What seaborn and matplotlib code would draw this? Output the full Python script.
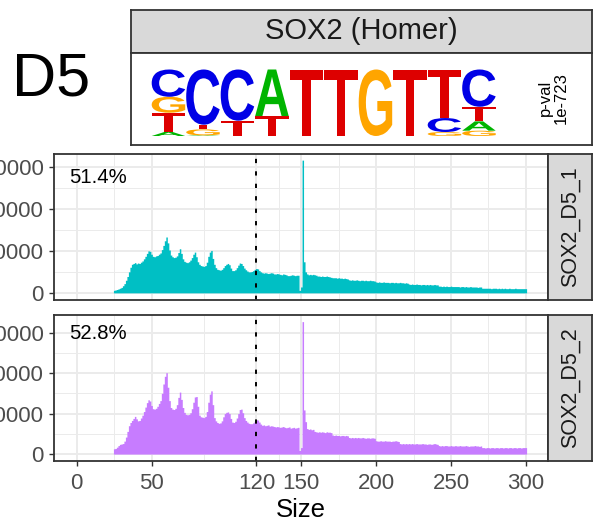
import matplotlib
matplotlib.use("Agg")
import matplotlib.pyplot as plt
import pandas as pd
import seaborn as sns
from matplotlib.textpath import TextPath
from matplotlib.font_manager import FontProperties
from matplotlib.patches import PathPatch
from matplotlib.transforms import Affine2D

# ---------------- data ----------------
sizes = list(range(25, 301))

counts_rep1 = [
    600, 700, 800, 950, 1100, 1300, 1700, 2200, 3000, 3900,
    5000, 6100, 6800, 7000, 7200, 6900, 7100, 7000, 7300, 7600,
    8100, 8700, 9400, 10000, 9900, 9200, 8700, 8600, 8800, 8900,
    9200, 9500, 10300, 11300, 12400, 13300, 11900, 10200, 9000, 8600,
    8400, 8500, 8800, 9600, 10500, 9400, 8100, 7500, 7300, 7200,
    7400, 7800, 8400, 9200, 9700, 8600, 7400, 6800, 6500, 6400,
    6300, 6500, 7300, 8700, 9700, 10100, 8200, 6800, 6000, 5600,
    5500, 5400, 5600, 6000, 6500, 6800, 7000, 6700, 5900, 5300,
    5300, 5500, 6000, 6600, 7100, 7000, 6500, 5900, 5500, 5200,
    5000, 5000, 5100, 5300, 5600, 5800, 5700, 5300, 5000, 4800,
    4700, 4800, 4700, 4600, 4700, 4800, 4700, 4500, 4500, 4600,
    4500, 4400, 4300, 4500, 4400, 4300, 4100, 4100, 4200, 4300,
    4200, 4100, 4200, 4200, 600, 1400, 31600, 7400, 5000, 4500,
    4300, 4400, 4300, 4400, 4300, 4200, 4000, 4000, 3900, 4000,
    3900, 3900, 4000, 3900, 3800, 3700, 3600, 3600, 3600, 3500,
    3600, 3500, 3500, 3400, 3500, 3400, 3300, 3100, 3000, 3100,
    3000, 3000, 3100, 3000, 2900, 3000, 3000, 2900, 3000, 2900,
    2900, 3000, 2900, 2900, 2800, 2600, 2500, 2600, 2500, 2500,
    2600, 2500, 2500, 2500, 2400, 2500, 2500, 2400, 2500, 2400,
    2400, 2500, 2400, 2400, 2300, 2400, 2300, 2100, 2000, 2100,
    2000, 2000, 2100, 2000, 2000, 1900, 2000, 2000, 1900, 2000,
    1900, 2000, 1900, 1900, 2000, 1900, 1900, 1600, 1600, 1500,
    1600, 1500, 1600, 1500, 1500, 1600, 1500, 1500, 1500, 1500,
    1500, 1400, 1500, 1500, 1400, 1500, 1400, 1400, 1500, 1400,
    1400, 1400, 1400, 1300, 1400, 1400, 1100, 1100, 1100, 1100,
    1100, 1100, 1000, 1100, 1100, 1100, 1000, 1100, 1000, 1100,
    1000, 1100, 1000, 1000, 1100, 1000, 1000, 1000, 1100, 1000,
    1000, 1000, 1000, 1000, 1000, 1000,
]

counts_rep2 = [
    1300, 1400, 1700, 2100, 2400, 2500, 2600, 3200, 4200, 5600,
    7000, 7800, 8300, 8800, 9300, 8700, 8200, 8300, 8900, 9600,
    10500, 11600, 12700, 13400, 13100, 12000, 11200, 11100, 11300, 11800,
    12500, 13200, 15000, 17300, 19200, 20100, 16500, 13200, 11500, 11100,
    11000, 11300, 12200, 14000, 15300, 13500, 11500, 10300, 9800, 9700,
    9800, 10200, 11200, 12800, 14100, 14200, 11800, 9600, 9200, 9100,
    9000, 9300, 10500, 12800, 14800, 15600, 12200, 9000, 8200, 7800,
    7600, 7700, 8200, 9200, 10000, 10300, 10400, 10000, 8800, 7900,
    7800, 8100, 8900, 10000, 11000, 11100, 10200, 9000, 8300, 7900,
    7600, 7500, 7500, 7700, 8100, 8500, 8400, 7900, 7400, 7100,
    7200, 7000, 7100, 7200, 6900, 7000, 6900, 6800, 6700, 6800,
    6700, 6600, 6700, 6800, 6600, 6500, 6600, 6700, 6400, 6500,
    6600, 6400, 6500, 6600, 900, 1600, 32700, 10900, 8000, 6300,
    6100, 6200, 6000, 6100, 5600, 5500, 5400, 5500, 5400, 5500,
    5400, 5300, 5500, 5400, 5400, 5300, 4700, 4600, 4700, 4600,
    4600, 4500, 4600, 4600, 4500, 4600, 4500, 4100, 4000, 4100,
    4000, 4100, 4000, 4100, 4000, 4000, 4100, 4000, 3900, 4000,
    4000, 3900, 4000, 4000, 3900, 3300, 3200, 3200, 3300, 3200,
    3200, 3300, 3200, 3200, 3200, 3100, 3200, 3200, 3300, 3200,
    3100, 2600, 2500, 2600, 2500, 2600, 2500, 2600, 2500, 2600,
    2500, 2500, 2600, 2500, 2500, 2500, 2600, 2500, 2500, 2400,
    2500, 2500, 2400, 2500, 2600, 2500, 2400, 2100, 2000, 2100,
    2000, 2100, 2100, 2000, 2000, 2100, 2000, 2000, 2100, 2000,
    2000, 2100, 2000, 2000, 2000, 2100, 2000, 1900, 2000, 2000,
    2000, 2100, 2000, 2000, 1900, 2000, 1600, 1600, 1500, 1600,
    1600, 1500, 1600, 1600, 1500, 1600, 1600, 1500, 1600, 1600,
    1500, 1600, 1600, 1500, 1600, 1600, 1500, 1600, 1600, 1500,
    1600, 1600, 1500, 1600, 1600, 1600,
]

samples = ["SOX2_D5_1", "SOX2_D5_2"]
sample_colors = ["#00BFC4", "#C77CFF"]
pct_labels = ["51.4%", "52.8%"]
size_cutoff = 120
x_ticks = [0, 50, 120, 150, 200, 250, 300]
x_minor = [25, 85, 135, 175, 225, 275]
y_ticks = [0, 10000, 20000, 30000]
y_minor = [5000, 15000, 25000]

stage_label = "D5"
motif_name = "SOX2 (Homer)"
motif_pval = "p-val\n1e-723"
# base probabilities at each motif position, stacked bottom to top
motif = [
    [("A", 0.06), ("T", 0.29), ("G", 0.24), ("C", 0.41)],
    [("A", 0.01), ("G", 0.09), ("T", 0.07), ("C", 0.83)],
    [("T", 0.23), ("C", 0.77)],
    [("T", 0.30), ("A", 0.70)],
    [("T", 1.00)],
    [("T", 1.00)],
    [("G", 1.00)],
    [("T", 1.00)],
    [("G", 0.06), ("C", 0.21), ("T", 0.73)],
    [("G", 0.08), ("A", 0.14), ("T", 0.22), ("C", 0.56)],
]
base_colors = {"A": "#00B400", "C": "#0000E6", "G": "#FFA500", "T": "#DD0000"}

df = pd.DataFrame({
    "Size": sizes * 2,
    "count": counts_rep1 + counts_rep2,
    "sample": [samples[0]] * len(sizes) + [samples[1]] * len(sizes),
})

# ---------------- style ----------------
sns.set_theme(style="white")
plt.rcParams["font.family"] = ["Liberation Sans", "DejaVu Sans"]

W, H = 600, 523
fig = plt.figure(figsize=(W / 100, H / 100), dpi=100)


def box(x0, y0, x1, y1):
    return [x0 / W, 1 - y1 / H, (x1 - x0) / W, (y1 - y0) / H]


BORDER = "#333333"
GRID = "#EBEBEB"
STRIP = "#D9D9D9"


def frame(ax, lw=1.3):
    for s in ax.spines.values():
        s.set_visible(True)
        s.set_color(BORDER)
        s.set_linewidth(lw)


# ---------------- motif header ----------------
ax_head = fig.add_axes(box(131, 10, 592, 52.5))
ax_head.set_facecolor(STRIP)
ax_head.set_xticks([])
ax_head.set_yticks([])
frame(ax_head)
ax_head.text(0.5, 0.5, motif_name, ha="center", va="center", size=21,
             color="#1A1A1A", transform=ax_head.transAxes)

ax_logo = fig.add_axes(box(131, 52.5, 592, 144.5))
ax_logo.set_facecolor("white")
ax_logo.set_xticks([])
ax_logo.set_yticks([])
frame(ax_logo)
ax_logo.set_xlim(131, 592)
ax_logo.set_ylim(H - 144.5, H - 52.5)

glyph_font = FontProperties(family="Liberation Sans", weight="bold")


def draw_letter(ax, ch, x0, y0, w, h, color):
    tp = TextPath((0, 0), ch, size=1, prop=glyph_font)
    bb = tp.get_extents()
    tr = (Affine2D().translate(-bb.x0, -bb.y0)
          .scale(w / bb.width, h / bb.height).translate(x0, y0))
    ax.add_patch(PathPatch(tr.transform_path(tp), facecolor=color,
                           edgecolor="none"))


col_left, col_step, col_width = 151.7, 34.5, 33.5
baseline, full_height = H - 136, 66.5
for i, column in enumerate(motif):
    y = baseline
    for base, p in column:
        h = p * full_height
        draw_letter(ax_logo, base, col_left + i * col_step, y, col_width, h,
                    base_colors[base])
        y += h

ax_logo.text(553, H - 98, motif_pval, rotation=90, ha="center", va="center",
             size=12, color="black", multialignment="center",
             linespacing=1.05)

fig.text(12 / W, 1 - 96 / H, stage_label, size=44, ha="left", va="baseline",
         color="black")

# ---------------- fragment size histograms ----------------
panel_rows = [(153.5, 299.5), (315, 460.7)]
pct_y = [0.795, 0.833]
for k, (sample, color) in enumerate(zip(samples, sample_colors)):
    top, bottom = panel_rows[k]
    ax = fig.add_axes(box(54.3, top, 548.3, bottom))
    sub = df[df["sample"] == sample]
    sns.histplot(data=sub, x="Size", weights="count", discrete=True,
                 element="step", fill=True, color=color, alpha=1,
                 linewidth=0, ax=ax)
    ymax = sub["count"].max()
    ax.set_xlim(-15, 315)
    ax.set_ylim(-0.05 * ymax, 1.05 * ymax)
    ax.set_facecolor("white")
    ax.set_axisbelow(True)
    ax.set_xticks(x_ticks)
    ax.set_xticks(x_minor, minor=True)
    ax.set_yticks(y_ticks)
    ax.set_yticks(y_minor, minor=True)
    ax.set_yticklabels([str(v) for v in y_ticks])
    ax.grid(which="major", color=GRID, linewidth=1.4)
    ax.grid(which="minor", color=GRID, linewidth=0.7)
    ax.tick_params(which="minor", length=0)
    ax.tick_params(axis="both", which="major", color=BORDER, length=3.6,
                   width=1.0, labelsize=16, labelcolor="#4D4D4D", pad=4)
    ax.tick_params(axis="y", left=True)
    if k == 0:
        ax.tick_params(axis="x", bottom=False, labelbottom=False)
    else:
        ax.tick_params(axis="x", bottom=True, labelbottom=True, pad=5)
        ax.set_xticklabels([str(v) for v in x_ticks])
    ax.set_xlabel("")
    ax.set_ylabel("")
    frame(ax)
    ax.axvline(size_cutoff, color="black", linewidth=1.4,
               linestyle=(0, (2.2, 4.2)))
    ax.text(0.0298, pct_y[k], pct_labels[k], transform=ax.transAxes,
            ha="left", va="baseline", size=14.6, color="black")

    ax_strip = fig.add_axes(box(548.3, top, 592, bottom))
    ax_strip.set_facecolor(STRIP)
    ax_strip.set_xticks([])
    ax_strip.set_yticks([])
    frame(ax_strip)
    ax_strip.text(0.5, 0.5, sample, rotation=90, ha="center", va="center",
                  size=15.5, color="#1A1A1A", transform=ax_strip.transAxes)

fig.text(301.3 / W, 1 - 517 / H, "Size", ha="center", va="baseline",
         size=18.5, color="black")

fig.savefig("out.png", dpi=100)
